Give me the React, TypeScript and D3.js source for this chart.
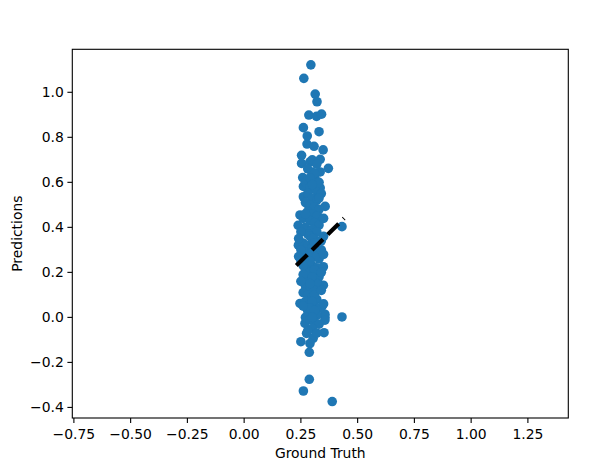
import React from "react";
import * as d3 from "d3";

const groundTruth: number[] = [
  0.294, 0.263, 0.313, 0.321, 0.285, 0.319, 0.341, 0.261, 0.330, 0.278,
  0.277, 0.308, 0.348, 0.253, 0.253, 0.290, 0.335, 0.371, 0.298, 0.335,
  0.258, 0.312, 0.261, 0.335, 0.261, 0.320, 0.285, 0.357, 0.246, 0.326,
  0.238, 0.317, 0.431, 0.239, 0.349, 0.282, 0.349, 0.246, 0.342, 0.356,
  0.431, 0.356, 0.356, 0.268, 0.275, 0.352, 0.304, 0.250, 0.290, 0.287,
  0.287, 0.261, 0.388,
  0.27, 0.29, 0.31, 0.28, 0.30, 0.32, 0.27, 0.29, 0.31, 0.33,
  0.28, 0.30, 0.32, 0.26, 0.29, 0.31, 0.33, 0.27, 0.30, 0.32,
  0.28, 0.29, 0.31, 0.34, 0.26, 0.28, 0.30, 0.32, 0.27, 0.29,
  0.31, 0.33, 0.25, 0.28, 0.30, 0.32, 0.27, 0.29, 0.31, 0.33,
  0.28, 0.30, 0.32, 0.27, 0.29, 0.31, 0.26, 0.28, 0.30, 0.32,
  0.27, 0.29, 0.31, 0.33, 0.28, 0.30, 0.32, 0.27, 0.29, 0.31,
  0.33, 0.30, 0.28, 0.32,
  0.30, 0.32, 0.28, 0.31, 0.29, 0.33, 0.30, 0.34, 0.30, 0.31,
  0.30, 0.32, 0.29, 0.31, 0.30, 0.29, 0.31, 0.30, 0.29, 0.31,
  0.30, 0.26, 0.25, 0.24, 0.25, 0.24, 0.34, 0.35, 0.35, 0.34,
  0.34, 0.35, 0.26, 0.25, 0.26, 0.27, 0.33, 0.35,
];

const predictions: number[] = [
  1.122, 1.062, 0.992, 0.958, 0.899, 0.893, 0.903, 0.843, 0.825, 0.806,
  0.770, 0.760, 0.744, 0.720, 0.684, 0.691, 0.702, 0.662, 0.646, 0.646,
  0.621, 0.619, 0.582, 0.575, 0.536, 0.536, 0.495, 0.493, 0.455, 0.448,
  0.409, 0.419, 0.403, 0.321, 0.225, 0.188, 0.143, 0.062, 0.047, 0.014,
  0.002, 0.001, -0.012, -0.027, -0.071, -0.068, -0.093, -0.108, -0.116, -0.155,
  -0.275, -0.327, -0.374,
  0.60, 0.58, 0.57, 0.55, 0.53, 0.52, 0.51, 0.50, 0.49, 0.48,
  0.47, 0.46, 0.45, 0.44, 0.43, 0.42, 0.41, 0.40, 0.39, 0.38,
  0.37, 0.36, 0.35, 0.34, 0.33, 0.32, 0.31, 0.30, 0.29, 0.28,
  0.27, 0.26, 0.25, 0.24, 0.23, 0.22, 0.21, 0.20, 0.19, 0.18,
  0.17, 0.16, 0.15, 0.14, 0.13, 0.12, 0.11, 0.10, 0.09, 0.08,
  0.07, 0.06, 0.05, 0.04, 0.03, 0.02, 0.01, 0.00, -0.01, -0.02,
  -0.03, -0.05, -0.06, -0.07,
  0.70, 0.68, 0.66, 0.64, 0.62, 0.60, 0.59, 0.55, 0.35, 0.33,
  0.29, 0.27, 0.25, 0.21, 0.18, 0.15, 0.10, 0.07, 0.04, 0.03,
  0.00, 0.05, 0.38, 0.35, 0.30, 0.27, 0.30, 0.36, 0.28, 0.20,
  0.12, 0.06, 0.19, 0.16, 0.23, 0.46, 0.53, 0.44,
];

const lineX: number[] = [0.23, 0.44];
const lineY: number[] = [0.23, 0.44];

const xTicks: number[] = [-0.75, -0.5, -0.25, 0, 0.25, 0.5, 0.75, 1.0, 1.25];
const yTicks: number[] = [-0.4, -0.2, 0, 0.2, 0.4, 0.6, 0.8, 1.0];

const W = 616;
const H = 469;
const L = 72.3, R = 568.3, T = 49.3, B = 418;

const fmt = (v: number, d: number) => v.toFixed(d).replace("-", "\u2212");

export default function App() {
  const x = d3.scaleLinear().domain([-0.757, 1.428]).range([L, R]);
  const y = d3.scaleLinear().domain([-0.447, 1.191]).range([B, T]);
  const font = "DejaVu Sans, sans-serif";
  const pts = groundTruth.map((g, i) => [g, predictions[i]] as [number, number]);
  const line = d3.line<number>().x((d, i) => x(lineX[i])).y((d, i) => y(lineY[i]));
  return (
    <svg width={W} height={H} style={{ position: "absolute", left: 0, top: 0, background: "#fff" }}>
      <rect x={0} y={0} width={W} height={H} fill="#fff" />
      <g>
        {pts.map((p, i) => (
          <circle key={i} cx={x(p[0])} cy={y(p[1])} r={4.8} fill="#1f77b4" />
        ))}
      </g>
      <path d={line(lineX) || ""} stroke="#000" strokeWidth={4.2} strokeDasharray="15.4,6.7" fill="none" />
      <rect x={L} y={T} width={R - L} height={B - T} fill="none" stroke="#000" strokeWidth={1.1} />
      {xTicks.map((t) => (
        <g key={"x" + t}>
          <line x1={x(t)} x2={x(t)} y1={B} y2={B + 4.9} stroke="#000" strokeWidth={1.1} />
          <text x={x(t)} y={B + 20.5} textAnchor="middle" fontFamily={font} fontSize={13.9} fill="#000">
            {fmt(t, 2)}
          </text>
        </g>
      ))}
      {yTicks.map((t) => (
        <g key={"y" + t}>
          <line x1={L - 4.9} x2={L} y1={y(t)} y2={y(t)} stroke="#000" strokeWidth={1.1} />
          <text x={L - 8.5} y={y(t)} dy="0.36em" textAnchor="end" fontFamily={font} fontSize={13.9} fill="#000">
            {fmt(t, 1)}
          </text>
        </g>
      ))}
      <text x={(L + R) / 2} y={458} textAnchor="middle" fontFamily={font} fontSize={13.9} fill="#000">
        Ground Truth
      </text>
      <text
        transform={`translate(22,${(T + B) / 2}) rotate(-90)`}
        textAnchor="middle"
        fontFamily={font}
        fontSize={13.9}
        fill="#000"
      >
        Predictions
      </text>
    </svg>
  );
}
